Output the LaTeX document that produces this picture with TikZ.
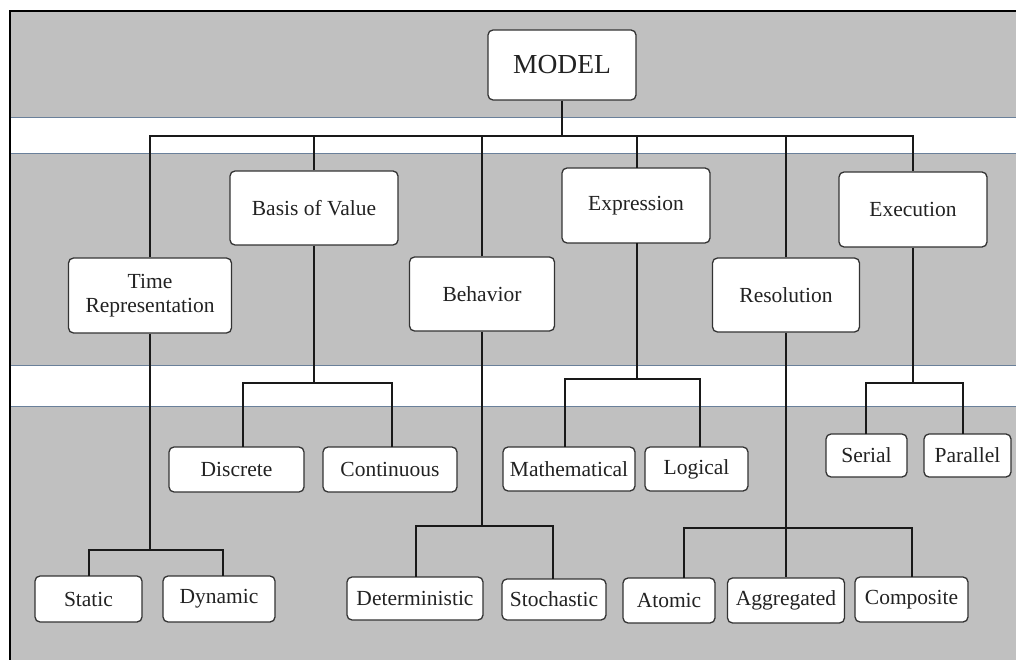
\documentclass[tikz,border=0pt]{standalone}
\usepackage{fontspec}
\setmainfont{Liberation Serif}
\definecolor{bggray}{HTML}{C0C0C0}
\definecolor{bandline}{HTML}{6A809A}
\definecolor{boxline}{HTML}{333333}
\definecolor{txt}{HTML}{222222}
\tikzset{
  box/.style={draw=boxline, line width=1.3pt, fill=white, rounded corners=5pt,
    inner sep=0pt, align=center, text=txt, font=\fontsize{21.5}{24}\selectfont},
  conn/.style={draw=black!90, line width=1.5pt},
  bandedge/.style={draw=bandline, line width=1pt}
}
\begin{document}
\begin{tikzpicture}[x=1pt,y=-1pt]
\useasboundingbox (0,0) rectangle (1020,660);
% background
\fill[white] (0,0) rectangle (1020,660);
\fill[bggray] (10,11) rectangle (1016,660);
\fill[white] (10,118) rectangle (1016,154);
\fill[white] (10,365) rectangle (1016,406);
\draw[bandedge] (10,118) -- (1016,118);
\draw[bandedge] (10,154) -- (1016,154);
\draw[bandedge] (10,365) -- (1016,365);
\draw[bandedge] (10,406) -- (1016,406);
\draw[black, line width=1.8pt] (10,660) -- (10,11) -- (1016,11);

% nodes
\node[box, minimum width=148pt, minimum height=70pt, font=\fontsize{27.5}{30}\selectfont] (model) at (562,65) {MODEL};
\node[box, minimum width=163pt, minimum height=75pt] (time) at (150,295.5) {Time\\Representation};
\node[box, minimum width=168pt, minimum height=74pt] (basis) at (314,208) {Basis of Value};
\node[box, minimum width=145pt, minimum height=74pt] (behav) at (482,294) {Behavior};
\node[box, minimum width=148pt, minimum height=75pt] (expr) at (636,205.5) {Expression};
\node[box, minimum width=147pt, minimum height=74pt] (resol) at (786,295) {Resolution};
\node[box, minimum width=148pt, minimum height=75pt] (exec) at (913,209.5) {Execution};

\node[box, minimum width=107pt, minimum height=46pt] (static) at (88.5,599) {Static};
\node[box, minimum width=112pt, minimum height=46pt] (dynamic) at (219,599) {Dynamic};
\node[box, minimum width=135pt, minimum height=45pt] (discrete) at (236.5,469.5) {Discrete};
\node[box, minimum width=134pt, minimum height=45pt] (contin) at (390,469.5) {Continuous};
\node[box, minimum width=132pt, minimum height=44pt] (math) at (569,469) {Mathematical};
\node[box, minimum width=103pt, minimum height=44pt] (logic) at (696.5,469) {Logical};
\node[box, minimum width=136pt, minimum height=43pt] (determ) at (415,598.5) {Deterministic};
\node[box, minimum width=104pt, minimum height=41pt] (stoch) at (554,599.5) {Stochastic};
\node[box, minimum width=92pt, minimum height=45pt] (atomic) at (669,600.5) {Atomic};
\node[box, minimum width=117pt, minimum height=45pt] (aggr) at (786,600.5) {Aggregated};
\node[box, minimum width=113pt, minimum height=45pt] (compos) at (911.5,599.5) {Composite};
\node[box, minimum width=81pt, minimum height=43pt] (serial) at (866.5,455.5) {Serial};
\node[box, minimum width=87pt, minimum height=43pt] (parallel) at (967.5,455.5) {Parallel};

% bus coordinates
\coordinate (topbus) at (562,136);
\coordinate (tbus) at (150,550);
\coordinate (bbus) at (314,383);
\coordinate (hbus) at (482,526);
\coordinate (ebus) at (637,379);
\coordinate (rbus) at (786,528);
\coordinate (xbus) at (913,383);

% top level
\draw[conn] (model.south) -- (topbus);
\draw[conn] (time.north) |- (topbus) -| (exec.north);
\draw[conn] (basis.north) -- (basis.north |- topbus);
\draw[conn] (behav.north) -- (behav.north |- topbus);
\draw[conn] (637,136) -- (637,168);
\draw[conn] (resol.north) -- (resol.north |- topbus);

% second level
\draw[conn] (time.south) -- (tbus);
\draw[conn] (89,576) |- (tbus) -| (223,576);
\draw[conn] (basis.south) -- (bbus);
\draw[conn] (243,447) |- (bbus) -| (392,447);
\draw[conn] (behav.south) -- (hbus);
\draw[conn] (416,577) |- (hbus) -| (553,579);
\draw[conn] (637,243) -- (ebus);
\draw[conn] (565,447) |- (ebus) -| (700,447);
\draw[conn] (resol.south) -- (aggr.north);
\draw[conn] (684,578) |- (rbus) -| (912,577);
\draw[conn] (exec.south) -- (xbus);
\draw[conn] (866,434) |- (xbus) -| (963,434);
\end{tikzpicture}
\end{document}
